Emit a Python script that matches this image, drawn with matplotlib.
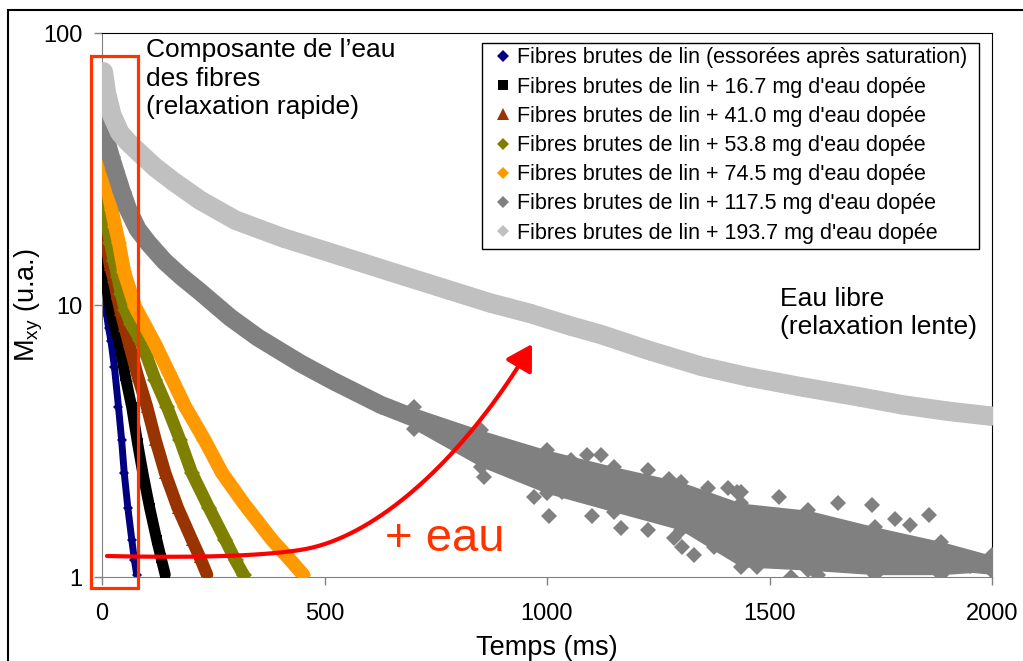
import matplotlib
matplotlib.use('Agg')
import matplotlib.pyplot as plt
from matplotlib.lines import Line2D
from matplotlib.patches import Rectangle, FancyArrowPatch
from matplotlib.path import Path
from matplotlib.ticker import NullLocator
import numpy as np

plt.rcParams['font.family'] = ['Liberation Sans', 'DejaVu Sans']

# Temps (ms) / Mxy (u.a.) along each decay curve
t_sat = [0, 1, 3, 6, 10, 15, 20, 28, 37, 44, 50, 58, 67, 73, 78]
m_sat = [21.8, 17, 13, 10.8, 9.3, 8.2, 7.4, 5.9, 4.23, 3.2, 2.41, 1.8, 1.37, 1.15, 1.02]

t_167 = [0, 1, 3, 7, 13, 20, 28, 38, 52, 67, 80, 92, 107, 123, 133, 142]
m_167 = [27.6, 23, 17, 13, 11, 9.6, 8.4, 7.4, 5.5, 4.2, 3.1, 2.4, 1.8, 1.37, 1.17, 1.02]

t_410 = [0, 2, 5, 10, 18, 25, 33, 41, 50, 60, 80, 101, 120, 142, 170, 202, 220, 236]
m_410 = [33.3, 27, 21, 17, 14, 12.7, 11, 9.6, 8.4, 7.3, 5.5, 4.23, 3.2, 2.41, 1.8, 1.37, 1.18, 1.02]

t_538 = [0, 3, 7, 13, 19, 27, 35, 43, 52, 65, 86, 100, 120, 146, 175, 202, 240, 277, 300, 318]
m_538 = [36.2, 29, 22.4, 19, 16.9, 14.5, 12.7, 11, 9.6, 8.5, 7.44, 6.5, 5.3, 4.23, 3.2, 2.41, 1.8, 1.37, 1.15, 1.02]

t_745 = [0, 3, 8, 15, 22, 30, 38, 50, 75, 97, 119, 151, 187, 230, 270, 320, 382, 420, 452]
m_745 = [41.6, 35, 29.6, 25.5, 22.4, 19.3, 16.9, 13.2, 9.8, 8.4, 7.2, 5.61, 4.23, 3.2, 2.41, 1.85, 1.37, 1.17, 1.02]

t_1175 = [0, 3, 10, 20, 30, 45, 59, 80, 104, 140, 179, 220, 288, 350, 446, 520, 626, 746, 813,
          900, 1000, 1075, 1150, 1225, 1300, 1375, 1451, 1511, 1586, 1661, 1736, 1811, 1886, 1950, 2000]
m_1175 = [53, 48, 40, 35, 31, 26, 22.4, 19, 16.9, 14.5, 12.7, 11.2, 9.0, 7.6, 6.1, 5.25, 4.3, 3.6, 3.28,
          2.9, 2.5, 2.28, 2.1, 1.94, 1.8, 1.66, 1.53, 1.45, 1.37, 1.3, 1.24, 1.18, 1.14, 1.12, 1.1]

# upper / lower edges of the noisy 117.5 mg band
t_1175_band = [700, 851, 1000, 1150, 1300, 1436, 1586, 1736, 1886, 2000]
m_1175_hi = [4.2, 3.47, 2.93, 2.545, 2.24, 1.87, 1.76, 1.53, 1.35, 1.2]
m_1175_lo = [3.5, 2.545, 2.03, 1.737, 1.489, 1.09, 1.06, 1.02, 1.02, 1.05]

# isolated points around the 117.5 mg band
t_1175_out = [858, 971, 1004, 1034, 1053, 1091, 1102, 1121, 1166, 1226, 1226, 1274, 1286, 1304, 1331,
              1361, 1376, 1406, 1428, 1436, 1458, 1473, 1522, 1548, 1608, 1653, 1730, 1783, 1815, 1858]
m_1175_out = [2.34, 1.97, 1.67, 2.06, 2.69, 2.81, 1.67, 2.81, 1.52, 1.49, 2.47, 2.3, 1.39, 1.29, 1.2,
              2.12, 1.29, 2.12, 2.06, 2.06, 1.22, 1.09, 1.97, 1.0, 1.02, 1.87, 1.84, 1.64, 1.55, 1.69]

t_1937 = [3, 10, 22, 40, 60, 86, 120, 160, 220, 300, 405, 550, 671, 776, 870, 963, 1050, 1120, 1230,
          1347, 1450, 1572, 1700, 1797, 1900, 2000]
m_1937 = [72, 60, 50, 43, 39.5, 36, 32, 28.5, 24.3, 20.5, 17.7, 14.9, 12.9, 11.4, 10.2, 9.3, 8.4, 7.8, 6.8,
          5.95, 5.45, 5.0, 4.6, 4.3, 4.07, 3.9]

labels = ['Fibres brutes de lin (essorées après saturation)',
          'Fibres brutes de lin + 16.7 mg d\'eau dopée',
          'Fibres brutes de lin + 41.0 mg d\'eau dopée',
          'Fibres brutes de lin + 53.8 mg d\'eau dopée',
          'Fibres brutes de lin + 74.5 mg d\'eau dopée',
          'Fibres brutes de lin + 117.5 mg d\'eau dopée',
          'Fibres brutes de lin + 193.7 mg d\'eau dopée']
colors = ['#000080', '#000000', '#993300', '#808000', '#FF9900', '#808080', '#C0C0C0']
markers = ['D', 's', '^', 'D', 'D', 'D', 'D']
legend_ms = [6.5, 6.5, 8, 6.5, 6.5, 6.5, 6.5]

series = [(t_sat, m_sat), (t_167, m_167), (t_410, m_410), (t_538, m_538),
          (t_745, m_745), (t_1175, m_1175), (t_1937, m_1937)]
widths = [5, 8, 9, 9, 10, 13, 14]
msizes = [5, 7, 9, 8, 8, 10, 10]

fig = plt.figure(figsize=(10.23, 6.61), dpi=100)
ax = fig.add_axes([102 / 1023, 1 - 577 / 661, 890 / 1023, 544 / 661])

for i, (t, m) in enumerate(series):
    ax.plot(t, m, '-', color=colors[i], lw=widths[i], solid_capstyle='round',
            solid_joinstyle='round', zorder=2 + i)
    ax.plot(t, m, ls='none', marker=markers[i], color=colors[i], ms=msizes[i],
            mew=0, zorder=2 + i)
    if i == 5:
        ax.fill_between(t_1175_band, m_1175_lo, m_1175_hi, color=colors[i], lw=0, zorder=2 + i)
        ax.plot(t_1175_band, m_1175_hi, ls='none', marker='D', color=colors[i], ms=8, mew=0, zorder=2 + i)
        ax.plot(t_1175_band, m_1175_lo, ls='none', marker='D', color=colors[i], ms=8, mew=0, zorder=2 + i)
        ax.plot(t_1175_out, m_1175_out, ls='none', marker='D', color=colors[i], ms=8, mew=0, zorder=2 + i)

ax.set_yscale('log')
ax.set_ylim(1, 100)
ax.set_xlim(0, 2000)
ax.set_yticks([1, 10, 100])
ax.set_yticklabels(['1', '10', '100'])
ax.yaxis.set_minor_locator(NullLocator())
ax.set_xticks([0, 500, 1000, 1500, 2000])
ax.tick_params(axis='both', direction='out', length=5.8, width=1, color='#808080', labelsize=17)
ax.tick_params(axis='x', pad=13)
ax.tick_params(axis='y', pad=8.5)
for s in ['left', 'bottom']:
    ax.spines[s].set_color('#808080')
for s in ['top', 'right']:
    ax.spines[s].set_color('black')

ax.set_xlabel('Temps (ms)', fontsize=19.5, labelpad=7)
ax.set_ylabel(r'M$_\mathregular{xy}$ (u.a.)', fontsize=19.5)
ax.yaxis.set_label_coords(-0.064, 0.5)

# legend box drawn on its own, entries placed inside it
ax.add_patch(Rectangle((482 / 1023, 1 - 249 / 661), 497 / 1023, 206 / 661,
                       transform=fig.transFigure, fc='white', ec='black', lw=1,
                       clip_on=False, zorder=19))
handles = [Line2D([], [], ls='none', marker=markers[i], color=colors[i], ms=legend_ms[i], mew=0)
           for i in range(7)]
leg = ax.legend(handles, labels, loc='upper left', bbox_to_anchor=(496 / 1023, 1 - 47.5 / 661),
                bbox_transform=fig.transFigure, borderaxespad=0, borderpad=0, fontsize=15.5,
                frameon=False, handlelength=0.65, handletextpad=0.33, labelspacing=0.38)
leg.set_zorder(20)

# fast-relaxation window
ax.add_patch(Rectangle((-25, 0.91), 106, 82 - 0.91, fill=False, ec='#FF3300', lw=2.3,
                       clip_on=False, zorder=15))

fig.text(146 / 1023, 1 - 38.5 / 661, 'Composante de l\u2019eau\ndes fibres\n(relaxation rapide)',
         fontsize=19, va='top', ha='left', linespacing=1.22)
fig.text(780 / 1023, 1 - 287 / 661, 'Eau libre\n(relaxation lente)', fontsize=19,
         va='top', ha='left', linespacing=1.22)
fig.text(385 / 1023, 1 - 551 / 661, '+ eau', fontsize=34, color='#FF3300', va='baseline', ha='left')

# arrow: two cubic pieces, in pixel positions of the axes box
def bez(p0, p1, p2, p3, n=40):
    s = np.linspace(0, 1, n)[:, None]
    return ((1 - s) ** 3 * p0 + 3 * (1 - s) ** 2 * s * p1 + 3 * (1 - s) * s ** 2 * p2 + s ** 3 * p3)

a = bez(np.array([107, 556]), np.array([200, 558]), np.array([260, 556]), np.array([300, 550]))
b = bez(np.array([300, 550]), np.array([380, 538]), np.array([470, 450]), np.array([532, 344]))
pts = np.vstack([a, b[1:]])
fx = (pts[:, 0] - 102) / 890
fy = (577 - pts[:, 1]) / 544
arrow = FancyArrowPatch(path=Path(np.column_stack([fx, fy])), transform=ax.transAxes,
                        arrowstyle='-|>,head_length=0.85,head_width=0.5', mutation_scale=18,
                        color='#FF0000', lw=3, clip_on=False, zorder=16)
ax.add_patch(arrow)

# outer frame
fig.add_artist(Rectangle((8 / 1023, -0.05), 1.2, (651 / 661) + 0.05, transform=fig.transFigure,
                         fill=False, ec='black', lw=1.5))

fig.savefig('out.png', dpi=100)
